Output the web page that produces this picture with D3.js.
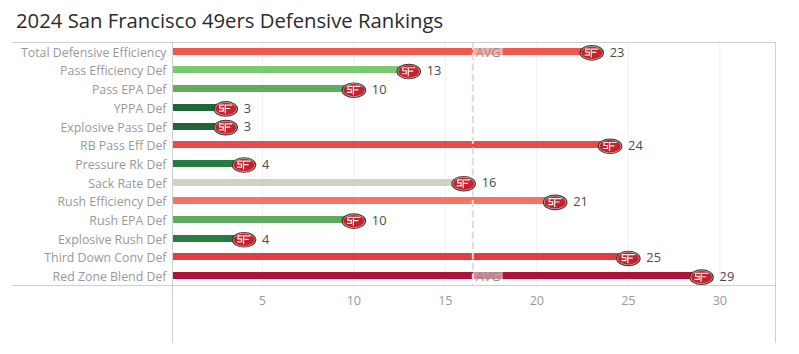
<!DOCTYPE html>
<html><head><meta charset="utf-8">
<script src="https://cdn.jsdelivr.net/npm/d3@7"></script>
<style>html,body{margin:0;padding:0;background:#fff}svg{display:block}text{font-family:"Open Sans",sans-serif}</style>
</head><body><div id="chart"></div>
<script>
const categories=["Total Defensive Efficiency","Pass Efficiency Def","Pass EPA Def","YPPA Def","Explosive Pass Def","RB Pass Eff Def","Pressure Rk Def","Sack Rate Def","Rush Efficiency Def","Rush EPA Def","Explosive Rush Def","Third Down Conv Def","Red Zone Blend Def"];
const ranks=[23,13,10,3,3,24,4,16,21,10,4,25,29];
const barColors=["#f1594f","#7dc873","#62aa5e","#216639","#216639","#e84b4b","#2a7a44","#cdd5c0","#f57565","#62aa5e","#2a7a44","#e13c42","#ae133a"];
const tickValues=[5,10,15,20,25,30];
const averageRank=16.5;
const title="2024 San Francisco 49ers Defensive Rankings";

const W=799,H=354;
const svg=d3.select("#chart").append("svg").attr("width",W).attr("height",H);
const x=d3.scaleLinear().domain([0.09,33.04]).range([172.5,775.5]);
const y=d3.scaleBand().domain(categories).range([41.9,284.9]);
const cy=d=>y(d)+y.bandwidth()/2;

svg.append("text").attr("x",16).attr("y",28).attr("font-size",20.3).attr("fill","#2b2b2b").text(title);

// grid
svg.append("g").selectAll("line").data(tickValues).join("line")
 .attr("x1",d=>x(d)).attr("x2",d=>x(d)).attr("y1",42.5).attr("y2",285)
 .attr("stroke","#f0f0f0").attr("stroke-width",1);

// frame
const frame=svg.append("g").attr("stroke","#cfcfcf").attr("stroke-width",1);
frame.append("line").attr("x1",12).attr("x2",776).attr("y1",42.5).attr("y2",42.5);
frame.append("line").attr("x1",12).attr("x2",776).attr("y1",285.5).attr("y2",285.5);
frame.append("line").attr("x1",172.5).attr("x2",172.5).attr("y1",42).attr("y2",343);
frame.append("line").attr("x1",775.5).attr("x2",775.5).attr("y1",42).attr("y2",343);

// x axis
const xAxis=d3.axisBottom(x).tickValues(tickValues).tickSize(0).tickPadding(0);
const gx=svg.append("g").attr("transform","translate(0,296)").call(xAxis);
gx.select(".domain").remove();
gx.selectAll("text").attr("font-size",12.6).attr("fill","#999").attr("dy","0.71em").attr("dx",-0.5);

// y labels
const yAxis=d3.axisLeft(y).tickSize(0).tickPadding(6);
const gy=svg.append("g").attr("transform","translate(172.5,1.6)").call(yAxis);
gy.select(".domain").remove();
gy.selectAll("text").attr("font-size",12.35).attr("fill","#999").attr("font-family",'"Open Sans",sans-serif');

// bars
svg.append("g").selectAll("rect").data(categories).join("rect")
 .attr("x",x(0.09)+.5).attr("y",d=>Math.round(cy(d)-3.5)).attr("height",7)
 .attr("width",(d,i)=>x(ranks[i])-x(0.09)).attr("fill",(d,i)=>barColors[i]);

// average line
svg.append("line").attr("x1",x(averageRank)).attr("x2",x(averageRank)).attr("y1",42.5).attr("y2",285)
 .attr("stroke","#dcdcdc").attr("stroke-width",2).attr("stroke-dasharray","7 3.5");

// AVG labels on first and last rows
[categories[0],categories[categories.length-1]].forEach(c=>{
  const g=svg.append("g");
  g.append("rect").attr("x",x(averageRank)).attr("y",Math.round(cy(c)-3.5)).attr("width",30).attr("height",7).attr("fill","#fff").attr("opacity",.5);
  g.append("text").attr("x",x(averageRank)+3).attr("y",cy(c)+1.4).attr("dy","0.35em").attr("font-size",12.6).attr("fill","#8e8e8e").text("AVG");
});

// logos
const logos=svg.append("g").selectAll("g").data(categories).join("g")
 .attr("transform",(d,i)=>`translate(${x(ranks[i])},${cy(d)+1.6})`);
logos.append("ellipse").attr("rx",12.3).attr("ry",7.8).attr("fill","#3a3530");
logos.append("ellipse").attr("rx",11.2).attr("ry",6.9).attr("fill","#b9b4a8");
logos.append("ellipse").attr("rx",10.5).attr("ry",6.2).attr("fill","#c8202f");
logos.append("path").attr("d","M-1.5 -3.8H-6V-.8H-2.5V2.2H-7M-.5 4.6V-3.8H6.5M-.5 -.4H4.5")
 .attr("fill","none").attr("stroke","#f4eeee").attr("stroke-width",1.2);

// value labels
svg.append("g").selectAll("text").data(categories).join("text")
 .attr("x",(d,i)=>x(ranks[i])+18).attr("y",d=>cy(d)+.9).attr("dy","0.35em")
 .attr("font-size",12.8).attr("fill","#4a4a4a").text((d,i)=>ranks[i]);
</script></body></html>
